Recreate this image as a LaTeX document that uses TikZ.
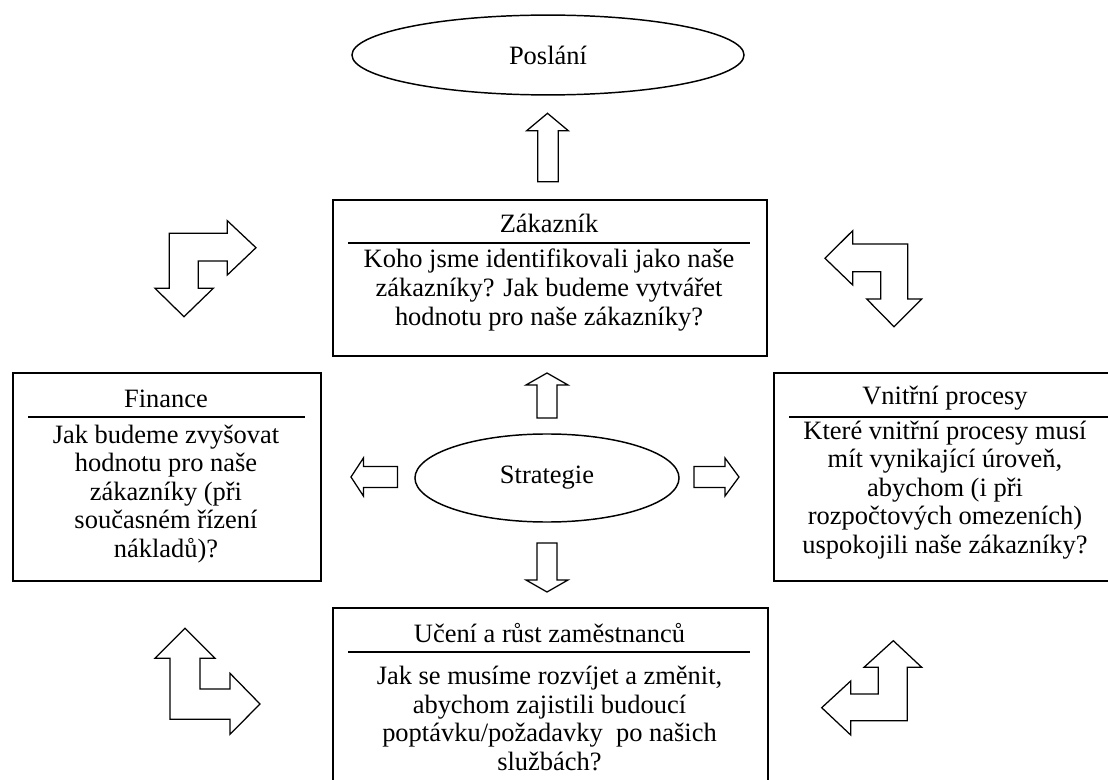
\documentclass[tikz,border=0pt]{standalone}
\usepackage{fontspec}
\setmainfont{Liberation Serif}
\usetikzlibrary{shapes}

\begin{document}
\begin{tikzpicture}[x=0.476pt, y=-0.476pt,
        every node/.style={font=\fontsize{12.6}{13.6}\selectfont},
        panel/.style={draw, line width=0.9pt, rectangle, anchor=north west, inner sep=0pt},
        oval/.style={draw, line width=0.7pt, ellipse, inner sep=0pt},
        blockarrow/.style={draw, line width=0.6pt, line join=miter, fill=white}]

        \useasboundingbox (0,0) rectangle (1108,780);
        \clip (0,0) rectangle (1108,780);

        % Declare the ellipses
        \node[oval, minimum width=186.6pt, minimum height=38pt] at (548, 55) (poslani) {Poslání};
        \node[oval, minimum width=125.7pt, minimum height=41.9pt] at (547, 478) (strategie) {Strategie};

        % Declare the boxes
        \node[panel, minimum width=206.6pt, minimum height=74.3pt] at (332, 199) (zak) {};
        \node[panel, minimum width=146.6pt, minimum height=99pt] at (12, 372) (fin) {};
        \node[panel, minimum width=170pt, minimum height=99pt] at (773, 372) (proc) {};
        \node[panel, minimum width=207pt, minimum height=95pt] at (332, 607) (uceni) {};

        % Declare titles and rules
        \node at (549, 223) (zakTitle) {Zákazník};
        \draw[line width=0.9pt] (348, 243.3) -- (750, 243.3);
        \node at (166, 399) (finTitle) {Finance};
        \draw[line width=0.9pt] (28, 416.7) -- (305, 416.7);
        \node at (945, 398) (procTitle) {Vnitřní procesy};
        \draw[line width=0.9pt] (789, 416.7) -- (1110, 416.7);
        \node at (549.5, 633) (uceniTitle) {Učení a růst zaměstnanců};
        \draw[line width=0.9pt] (348, 652.3) -- (750, 652.3);

        % Declare the questions
        \node[align=center] at (549, 290) (zakText) {Koho jsme identifikovali jako naše\\zákazníky? Jak budeme vytvářet\\hodnotu pro naše zákazníky?};
        \node[align=center] at (166, 494) (finText) {Jak budeme zvyšovat\\hodnotu pro naše\\zákazníky (při\\současném řízení\\nákladů)?};
        \node[align=center] at (945, 490) (procText) {Které vnitřní procesy musí\\mít vynikající úroveň,\\abychom (i při\\rozpočtových omezeních)\\uspokojili naše zákazníky?};
        \node[align=center] at (549.5, 718.5) (uceniText) {Jak se musíme rozvíjet a změnit,\\abychom zajistili budoucí\\poptávku/požadavky\ \ po našich\\službách?};

        % Declare straight arrows
        \draw[blockarrow] (537.7,181.7) -- (537.7,130.7) -- (526.7,130.7) -- (547.5,113.3) -- (568.3,130.7) -- (558.3,130.7) -- (558.3,181.7) -- cycle;
        \draw[blockarrow] (537,418) -- (537,385) -- (526,385) -- (547,373) -- (568,385) -- (557,385) -- (557,418) -- cycle;
        \draw[blockarrow] (537,543) -- (557,543) -- (557,580) -- (568,580) -- (547,592) -- (526,580) -- (537,580) -- cycle;
        \draw[blockarrow] (397.6,466.6) -- (363.4,466.6) -- (363.4,458) -- (351,477) -- (363.4,496) -- (363.4,487.6) -- (397.6,487.6) -- cycle;
        \draw[blockarrow] (694,466.6) -- (725,466.6) -- (725,458) -- (739,477) -- (725,496) -- (725,487.6) -- (694,487.6) -- cycle;

        % Declare bent arrows
        \draw[blockarrow] (169.3,233.3) -- (227.3,233.3) -- (227.3,220.7) -- (256,247.7) -- (227.3,275) -- (227.3,261) -- (198.3,261) -- (198.3,288.3) -- (213.3,288.3) -- (184,316.7) -- (155,288.3) -- (169.3,288.3) -- cycle;
        \draw[blockarrow] (825,258.3) -- (852.7,230.7) -- (852.7,244) -- (907.7,244) -- (907.7,299) -- (921.7,299) -- (894,326.7) -- (866.7,299) -- (880.7,299) -- (880.7,271.7) -- (852.7,271.7) -- (852.7,285) -- cycle;
        \draw[blockarrow] (185,628.3) -- (215,658.3) -- (200,658.3) -- (200,689) -- (230,689) -- (230,673.3) -- (260,704) -- (230,734.3) -- (230,719.3) -- (170,719.3) -- (170,658.3) -- (155,658.3) -- cycle;
        \draw[blockarrow] (893.3,640.7) -- (921.7,667.3) -- (907.3,667.3) -- (907.3,720.7) -- (850.7,720.7) -- (850.7,735) -- (821.7,707.7) -- (850.7,681) -- (850.7,694) -- (878.3,694) -- (878.3,667.3) -- (864,667.3) -- cycle;

    \end{tikzpicture}
\end{document}
